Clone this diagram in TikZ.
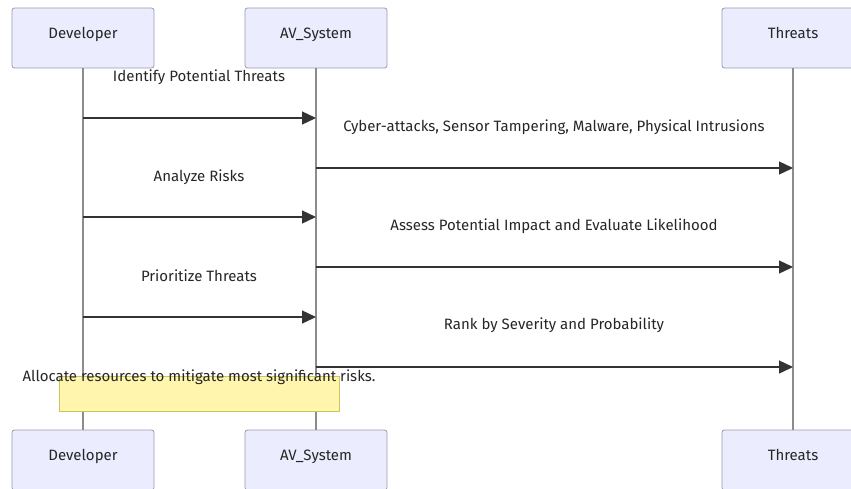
\documentclass[tikz,border=0pt]{standalone}
\usepackage{fontspec}
\setmainfont{Fira Sans}
\usetikzlibrary{arrows.meta}
\definecolor{actorfill}{HTML}{ECECFF}
\definecolor{actorline}{HTML}{9A9AAE}
\definecolor{notefill}{HTML}{FFF5AD}
\definecolor{noteline}{HTML}{C9C65A}
\definecolor{msgline}{HTML}{333333}
\tikzset{
  actor/.style={draw=actorline, fill=actorfill, rounded corners=2.5pt, line width=0.8pt,
    minimum width=142pt, minimum height=60pt, text height=10pt, text depth=10pt,
    font=\fontsize{15}{17}\selectfont, text=black!85},
  lifeline/.style={draw=black!45, line width=1.4pt},
  msg/.style={draw=msgline, line width=1.3pt, -{Triangle[length=14pt,width=13pt]}},
  msgtext/.style={font=\fontsize{15}{17}\selectfont, text=black!85},
  notebox/.style={draw=noteline, fill=notefill, line width=0.8pt, minimum width=280pt, minimum height=35pt}
}
\begin{document}
\begin{tikzpicture}[x=1pt, y=-1pt]
  \useasboundingbox (0,0) rectangle (851,488);
  % actors
  \node[actor] (devT) at (83,38) {Developer};
  \node[actor] (avT) at (316,38) {AV\_System};
  \node[actor] (thrT) at (793,38) {Threats};
  \node[actor] (devB) at (83,460) {Developer};
  \node[actor] (avB) at (316,460) {AV\_System};
  \node[actor] (thrB) at (793,460) {Threats};
  \draw[lifeline] (devT.south) -- (devB.north);
  \draw[lifeline] (avT.south) -- (avB.north);
  \draw[lifeline] (thrT.south) -- (thrB.north);
  % messages
  \coordinate (d1) at (83,118);  \coordinate (a1) at (316,118);
  \coordinate (a2) at (316,168); \coordinate (t2) at (793,168);
  \coordinate (d3) at (83,217);  \coordinate (a3) at (316,217);
  \coordinate (a4) at (316,267); \coordinate (t4) at (793,267);
  \coordinate (d5) at (83,317);  \coordinate (a5) at (316,317);
  \coordinate (a6) at (316,367); \coordinate (t6) at (793,367);
  \draw[msg] (d1) -- (a1);
  \draw[msg] (a2) -- (t2);
  \draw[msg] (d3) -- (a3);
  \draw[msg] (a4) -- (t4);
  \draw[msg] (d5) -- (a5);
  \draw[msg] (a6) -- (t6);
  \node[msgtext] (l1) at (199,77) {Identify Potential Threats};
  \node[msgtext] (l2) at (554,127) {Cyber-attacks, Sensor Tampering, Malware, Physical Intrusions};
  \node[msgtext] (l3) at (199,177) {Analyze Risks};
  \node[msgtext] (l4) at (554,226) {Assess Potential Impact and Evaluate Likelihood};
  \node[msgtext] (l5) at (199,276) {Prioritize Threats};
  \node[msgtext] (l6) at (554,325) {Rank by Severity and Probability};
  % note
  \node[notebox] (note) at (199,393.5) {};
  \node[msgtext] (notetext) at (199,377) {Allocate resources to mitigate most significant risks.};
\end{tikzpicture}
\end{document}
